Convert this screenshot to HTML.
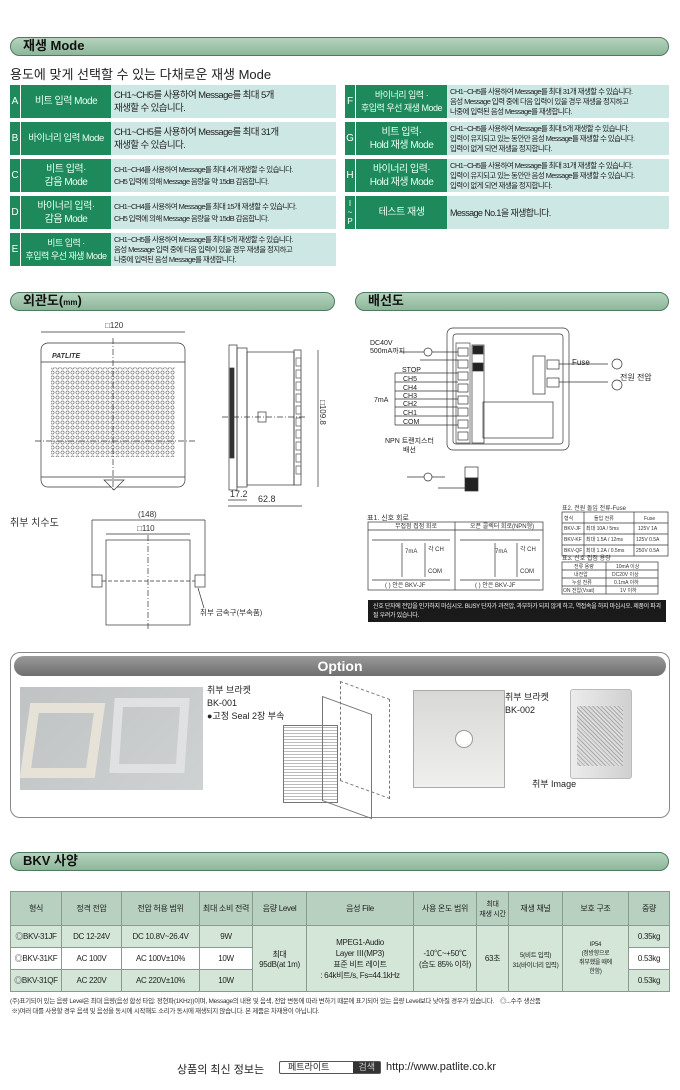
<!DOCTYPE html>
<html><head><meta charset="utf-8"><style>
*{margin:0;padding:0;box-sizing:border-box}
body{width:680px;height:1090px;background:#fff;position:relative;overflow:hidden;font-family:"Liberation Sans","Noto Sans CJK KR",sans-serif;color:#222}
.a{position:absolute}
.hd{position:absolute;height:19px;border:1.5px solid #4e7a5e;border-radius:10px;background:linear-gradient(#b5d3bd,#8db79a);font-weight:bold;font-size:13px;padding-left:12px;line-height:16px;color:#111}
.row{position:absolute;display:flex;height:33px;font-size:11px}
.row .l{width:10px;background:#1e8a5c;color:#fff;display:flex;align-items:center;justify-content:center;font-size:10px;margin-right:1px}
.row .m{background:#1e8a5c;color:#e8fff2;display:flex;align-items:center;justify-content:center;text-align:center;line-height:13px;font-size:10px;letter-spacing:-0.5px;white-space:nowrap}
.row .d{flex:1;background:#cde8e4;padding:1px 3px;display:flex;align-items:center;line-height:10px;font-size:7.5px;letter-spacing:-0.6px;white-space:nowrap;overflow:hidden}
table{border-collapse:collapse;font-size:8px;text-align:center;letter-spacing:-0.3px}
td{border:1px solid #8a9a90;padding:0}
</style></head><body>

<div class="hd" style="left:10px;top:37px;width:659px">재생 Mode</div>
<div class="a" style="left:10px;top:64px;font-size:13px">용도에 맞게 선택할 수 있는 다채로운 재생 Mode</div>

<div class="row" style="left:10px;top:85px;width:326px"><div class="l">A</div><div class="m" style="width:90px">비트 입력 Mode</div><div class="d" style="font-size:9.5px;line-height:13px">CH1~CH5를 사용하여 Message를 최대 5개<br>재생할 수 있습니다.</div></div>
<div class="row" style="left:10px;top:122px;width:326px"><div class="l">B</div><div class="m" style="width:90px;font-size:9.5px">바이너리 입력 Mode</div><div class="d" style="font-size:9.5px;line-height:13px">CH1~CH5를 사용하여 Message를 최대 31개<br>재생할 수 있습니다.</div></div>
<div class="row" style="left:10px;top:159px;width:326px"><div class="l">C</div><div class="m" style="width:90px">비트 입력·<br>감음 Mode</div><div class="d" style="line-height:12px">CH1~CH4를 사용하여 Message를 최대 4개 재생할 수 있습니다.<br>CH5 입력에 의해 Message 음량을 약 15dB 감음합니다.</div></div>
<div class="row" style="left:10px;top:196px;width:326px"><div class="l">D</div><div class="m" style="width:90px">바이너리 입력·<br>감음 Mode</div><div class="d" style="line-height:12px">CH1~CH4를 사용하여 Message를 최대 15개 재생할 수 있습니다.<br>CH5 입력에 의해 Message 음량을 약 15dB 감음합니다.</div></div>
<div class="row" style="left:10px;top:233px;width:326px"><div class="l">E</div><div class="m" style="width:90px;font-size:9px">비트 입력 ·<br>후입력 우선 재생 Mode</div><div class="d">CH1~CH5를 사용하여 Message를 최대 5개 재생할 수 있습니다.<br>음성 Message 입력 중에 다음 입력이 있을 경우 재생을 정지하고<br>나중에 입력된 음성 Message를 재생합니다.</div></div>

<div class="row" style="left:345px;top:85px;width:324px"><div class="l">F</div><div class="m" style="width:91px;font-size:9px">바이너리 입력 ·<br>후입력 우선 재생 Mode</div><div class="d">CH1~CH5를 사용하여 Message를 최대 31개 재생할 수 있습니다.<br>음성 Message 입력 중에 다음 입력이 있을 경우 재생을 정지하고<br>나중에 입력된 음성 Message를 재생합니다.</div></div>
<div class="row" style="left:345px;top:122px;width:324px"><div class="l">G</div><div class="m" style="width:91px">비트 입력·<br>Hold 재생 Mode</div><div class="d">CH1~CH5를 사용하여 Message를 최대 5개 재생할 수 있습니다.<br>입력이 유지되고 있는 동안만 음성 Message를 재생할 수 있습니다.<br>입력이 없게 되면 재생을 정지합니다.</div></div>
<div class="row" style="left:345px;top:159px;width:324px"><div class="l">H</div><div class="m" style="width:91px">바이너리 입력·<br>Hold 재생 Mode</div><div class="d">CH1~CH5를 사용하여 Message를 최대 31개 재생할 수 있습니다.<br>입력이 유지되고 있는 동안만 음성 Message를 재생할 수 있습니다.<br>입력이 없게 되면 재생을 정지합니다.</div></div>
<div class="row" style="left:345px;top:196px;width:324px"><div class="l" style="font-size:8px;line-height:9px;text-align:center">I<br>~<br>P</div><div class="m" style="width:91px">테스트 재생</div><div class="d" style="font-size:9px">Message No.1을 재생합니다.</div></div>

<div class="hd" style="left:10px;top:292px;width:325px">외관도(<span style="font-size:8px">mm</span>)</div>
<div class="hd" style="left:355px;top:292px;width:314px">배선도</div>

<svg class="a" style="left:0;top:312px" width="680" height="330" viewBox="0 312 680 330" font-family="Liberation Sans, Noto Sans CJK KR, sans-serif" fill="none" stroke="#333" stroke-width="0.7">
<defs><pattern id="dots" width="5" height="5" patternUnits="userSpaceOnUse"><circle cx="2.5" cy="2.5" r="1.6" fill="none" stroke="#666" stroke-width="0.6"/></pattern></defs>
<text x="105" y="328" font-size="8" fill="#333" stroke="none">□120</text>
<line x1="41" y1="332" x2="185" y2="332"/>
<rect x="41" y="343" width="144" height="144" rx="7"/>
<line x1="41" y1="362" x2="185" y2="362"/>
<text x="52" y="358" font-size="7" font-style="italic" font-weight="bold" fill="#333" stroke="none">PATLITE</text>
<rect x="51" y="367" width="124" height="90" fill="url(#dots)" stroke="none"/>
<line x1="41" y1="477" x2="185" y2="477"/>
<path d="M104 480 L124 480 L114 490 Z" fill="#fff"/>
<line x1="113" y1="338" x2="113" y2="492" stroke-dasharray="6 2 1 2"/>
<line x1="35" y1="441" x2="195" y2="441" stroke-dasharray="6 2 1 2"/>
<rect x="229" y="345" width="8" height="145"/>
<rect x="237" y="348" width="10" height="139"/>
<rect x="247" y="352" width="47" height="133"/>
<rect x="230" y="368" width="4" height="90" fill="#333"/>
<rect x="294" y="350" width="7" height="135"/>
<g stroke="#555">
<rect x="296" y="358" width="5" height="8"/><rect x="296" y="370" width="5" height="8"/><rect x="296" y="382" width="5" height="8"/><rect x="296" y="394" width="5" height="8"/><rect x="296" y="406" width="5" height="8"/><rect x="296" y="418" width="5" height="8"/><rect x="296" y="430" width="5" height="8"/><rect x="296" y="442" width="5" height="8"/><rect x="296" y="454" width="5" height="8"/><rect x="296" y="466" width="5" height="8"/></g>
<rect x="258" y="412" width="8" height="10"/>
<line x1="222" y1="417" x2="305" y2="417" stroke-dasharray="6 2 1 2"/>
<line x1="318" y1="350" x2="318" y2="487"/>
<text x="318" y="425" font-size="8" fill="#333" stroke="none" transform="rotate(90 318 425)" dx="-25" dy="-2">□109.8</text>
<line x1="228" y1="500" x2="247" y2="500"/><line x1="228" y1="506" x2="302" y2="506"/>
<text x="230" y="497" font-size="9" fill="#333" stroke="none">17.2</text>
<text x="258" y="502" font-size="9" fill="#333" stroke="none">62.8</text>
<text x="10" y="526" font-size="10" fill="#333" stroke="none">취부 치수도</text>
<text x="138" y="517" font-size="8" fill="#333" stroke="none">(148)</text>
<line x1="92" y1="520" x2="205" y2="520"/>
<text x="137" y="531" font-size="8" fill="#333" stroke="none">□110</text>
<line x1="106" y1="534" x2="190" y2="534"/>
<line x1="92" y1="520" x2="92" y2="575"/><line x1="205" y1="520" x2="205" y2="575"/>
<rect x="106" y="540" width="84" height="85"/>
<rect x="92" y="575" width="10" height="12"/><rect x="195" y="575" width="10" height="12"/>
<line x1="102" y1="581" x2="195" y2="581" stroke-dasharray="4 2"/>
<line x1="148" y1="535" x2="148" y2="630" stroke-dasharray="6 2 1 2"/>
<line x1="198" y1="588" x2="204" y2="608"/>
<text x="200" y="615" font-size="7.5" fill="#333" stroke="none">취부 금속구(부속품)</text>

<rect x="447" y="328" width="122" height="122" rx="6"/>
<rect x="453" y="334" width="110" height="110" rx="3"/>
<rect x="456" y="343" width="14" height="100" stroke="#444"/>
<g fill="#fff"><rect x="458" y="348" width="10" height="8"/><rect x="458" y="360" width="10" height="8"/><rect x="458" y="372" width="10" height="8"/><rect x="458" y="384" width="10" height="8"/><rect x="458" y="396" width="10" height="8"/><rect x="458" y="408" width="10" height="8"/><rect x="458" y="420" width="10" height="8"/><rect x="458" y="432" width="10" height="8"/></g>
<rect x="472" y="345" width="12" height="98"/>
<rect x="473" y="346" width="10" height="8" fill="#222"/>
<rect x="473" y="363" width="10" height="8" fill="#222"/>
<rect x="483" y="402" width="70" height="36"/>
<rect x="533" y="356" width="12" height="38"/>
<rect x="547" y="360" width="12" height="9" fill="#fff"/><rect x="547" y="378" width="12" height="9" fill="#fff"/>
<g font-size="7" fill="#222" stroke="none">
<text x="370" y="345">DC40V</text><text x="370" y="353">500mA까지</text>
<text x="402" y="372">STOP</text><text x="403" y="381">CH5</text><text x="403" y="390">CH4</text><text x="403" y="398">CH3</text><text x="403" y="406">CH2</text><text x="403" y="415">CH1</text><text x="403" y="424">COM</text>
<text x="374" y="402">7mA</text>
<text x="385" y="443">NPN 트랜지스터</text><text x="403" y="452">배선</text>
<text x="572" y="365" font-size="8">Fuse</text>
<text x="620" y="380" font-size="8">전원 전압</text>
</g>
<g stroke="#333">
<line x1="400" y1="352" x2="458" y2="352"/><line x1="420" y1="360" x2="458" y2="360"/>
<line x1="395" y1="373" x2="458" y2="373"/><line x1="395" y1="382" x2="458" y2="382"/><line x1="395" y1="391" x2="458" y2="391"/><line x1="395" y1="399" x2="458" y2="399"/><line x1="395" y1="407" x2="458" y2="407"/><line x1="395" y1="416" x2="458" y2="416"/><line x1="395" y1="425" x2="458" y2="425"/>
<line x1="395" y1="373" x2="395" y2="425"/>
<circle cx="428" cy="352" r="4" fill="#fff"/>
<line x1="559" y1="364" x2="608" y2="364"/><line x1="559" y1="382" x2="608" y2="382"/>
<circle cx="617" cy="364" r="5"/><circle cx="617" cy="385" r="5"/>
<line x1="407" y1="477" x2="445" y2="477"/><circle cx="428" cy="477" r="4" fill="#fff"/>
<line x1="438" y1="488" x2="465" y2="488"/>
</g>
<rect x="465" y="467" width="13" height="11" fill="#fff"/><rect x="465" y="478" width="13" height="13" fill="#222"/>
<text x="367" y="520" font-size="7" fill="#333" stroke="none">표1. 신호 회로</text>
<rect x="368" y="522" width="175" height="68"/><line x1="455" y1="522" x2="455" y2="590"/><line x1="368" y1="530" x2="543" y2="530"/>
<line x1="372" y1="540" x2="450" y2="540"/><line x1="372" y1="580" x2="450" y2="580"/>
<line x1="460" y1="540" x2="540" y2="540"/><line x1="460" y1="580" x2="540" y2="580"/>
<line x1="402" y1="543" x2="402" y2="577"/><line x1="425" y1="543" x2="425" y2="577"/>
<line x1="495" y1="543" x2="495" y2="577"/><line x1="517" y1="543" x2="517" y2="577"/>
<g font-size="6" fill="#333" stroke="none">
<text x="395" y="528">무접점 접점 회로</text><text x="470" y="528">오픈 콜렉터 회로(NPN형)</text>
<text x="405" y="553">7mA</text><text x="428" y="551">각 CH</text><text x="428" y="573">COM</text>
<text x="495" y="553">7mA</text><text x="520" y="551">각 CH</text><text x="520" y="573">COM</text>
<text x="385" y="587">( ) 안은 BKV-JF</text><text x="475" y="587">( ) 안은 BKV-JF</text>
<text x="562" y="510">표2. 전원 돌입 전류-Fuse</text><text x="562" y="560">표3. 신호 접점 용량</text>
</g>
<rect x="562" y="512" width="106" height="44"/><line x1="562" y1="523" x2="668" y2="523"/><line x1="562" y1="534" x2="668" y2="534"/><line x1="562" y1="545" x2="668" y2="545"/><line x1="584" y1="512" x2="584" y2="556"/><line x1="634" y1="512" x2="634" y2="556"/>
<rect x="562" y="562" width="96" height="32"/><line x1="562" y1="570" x2="658" y2="570"/><line x1="562" y1="578" x2="658" y2="578"/><line x1="562" y1="586" x2="658" y2="586"/><line x1="606" y1="562" x2="606" y2="594"/>
<g font-size="5" fill="#333" stroke="none">
<text x="564" y="520">형식</text><text x="594" y="520">돌입 전류</text><text x="644" y="520">Fuse</text>
<text x="564" y="530">BKV-JF</text><text x="586" y="530">최대 10A / 5ms</text><text x="638" y="530">125V 1A</text>
<text x="564" y="541">BKV-KF</text><text x="586" y="541">최대 1.5A / 12ms</text><text x="636" y="541">125V 0.5A</text>
<text x="564" y="552">BKV-QF</text><text x="586" y="552">최대 1.2A / 0.5ms</text><text x="636" y="552">250V 0.5A</text>
<text x="574" y="568">전류 용량</text><text x="616" y="568">10mA 이상</text>
<text x="574" y="576">내전압</text><text x="612" y="576">DC20V 이상</text>
<text x="572" y="584">누설 전류</text><text x="614" y="584">0.1mA 이하</text>
<text x="563" y="592">ON 전압(Vsat)</text><text x="620" y="592">1V 이하</text>
</g>
</svg>
<div class="a" style="left:368px;top:600px;width:298px;height:22px;background:#1a1a1a;color:#eee;font-size:6px;line-height:9px;padding:3px 5px;letter-spacing:-0.3px">신호 단자에 전압을 인가하지 마십시오. BUSY 단자가 과전압, 과부하가 되지 않게 하고, 역접속을 하지 마십시오. 제품이 파괴될 우려가 있습니다.</div>

<div class="a" style="left:10px;top:652px;width:660px;height:166px;border:1.5px solid #888;border-radius:10px"></div>
<div class="a" style="left:14px;top:656px;width:652px;height:20px;border-radius:10px;background:linear-gradient(#9a9a9a,#6e6e6e);color:#fff;font-weight:bold;font-size:14px;text-align:center;line-height:20px">Option</div>
<div class="a" style="left:20px;top:687px;width:183px;height:103px;background:linear-gradient(135deg,#bfc3c4,#cfd2d2)"></div>
<div class="a" style="left:25px;top:703px;width:75px;height:75px;border:10px solid #e6e2d8;transform:skewX(-8deg)"></div>
<div class="a" style="left:112px;top:698px;width:75px;height:75px;border:9px solid #dfe1e3;transform:skewX(-4deg)"></div>
<div class="a" style="left:207px;top:684px;font-size:9px;line-height:13px">취부 브라켓<br>BK-001<br>●고정 Seal 2장 부속</div>
<div class="a" style="left:283px;top:725px;width:55px;height:78px;border:1px solid #777;background:repeating-linear-gradient(0deg,#fff 0 2px,#bbb 2px 3px)"></div>
<div class="a" style="left:322px;top:705px;width:50px;height:105px;border:1px solid #777;transform:skewY(20deg)"></div>
<div class="a" style="left:340px;top:690px;width:50px;height:100px;border:1px dashed #777;transform:skewY(20deg)"></div>
<div class="a" style="left:413px;top:690px;width:92px;height:98px;background:linear-gradient(#d8d8d6,#efefed);border:1px solid #aaa"></div>
<div class="a" style="left:455px;top:730px;width:18px;height:18px;border-radius:50%;background:#fff;border:1px solid #999"></div>
<div class="a" style="left:505px;top:691px;font-size:9px;line-height:13px">취부 브라켓<br>BK-002</div>
<div class="a" style="left:570px;top:689px;width:62px;height:90px;background:linear-gradient(90deg,#ececec,#d0d0d0);border:1px solid #bbb;border-radius:3px"></div>
<div class="a" style="left:577px;top:706px;width:46px;height:60px;background:repeating-linear-gradient(45deg,#ddd 0 2px,#aaa 2px 3px)"></div>
<div class="a" style="left:532px;top:777px;font-size:9px">취부 Image</div>

<div class="hd" style="left:10px;top:852px;width:659px">BKV 사양</div>
<table class="a" style="left:10px;top:891px;width:660px">
<tr style="height:34px;background:#b7d0c0"><td style="width:51px">형식</td><td style="width:60px">정격 전압</td><td style="width:78px">전압 허용 범위</td><td style="width:53px">최대 소비 전력</td><td style="width:54px">음량 Level</td><td style="width:107px">음성 File</td><td style="width:63px">사용 온도 범위</td><td style="width:32px;font-size:7px">최대<br>재생 시간</td><td style="width:54px">재생 채널</td><td style="width:66px">보호 구조</td><td>중량</td></tr>
<tr style="height:22px"><td style="background:#d3e6d8">◎BKV-31JF</td><td style="background:#d3e6d8">DC 12-24V</td><td style="background:#d3e6d8">DC 10.8V~26.4V</td><td style="background:#d3e6d8">9W</td><td rowspan="3" style="background:#d3e6d8">최대<br>95dB(at 1m)</td><td rowspan="3" style="background:#d3e6d8;line-height:11px">MPEG1-Audio<br>Layer Ⅲ(MP3)<br>표준 비트 레이트<br>: 64k비트/s, Fs=44.1kHz</td><td rowspan="3" style="background:#d3e6d8">-10℃~+50℃<br>(습도 85% 이하)</td><td rowspan="3" style="background:#d3e6d8">63초</td><td rowspan="3" style="background:#d3e6d8;font-size:6.5px;white-space:nowrap">5(비트 입력)<br>31(바이너리 입력)</td><td rowspan="3" style="background:#d3e6d8;font-size:6px">IP54<br>(정방향으로<br>취부했을 때에<br>한함)</td><td style="background:#d3e6d8">0.35kg</td></tr>
<tr style="height:22px"><td>◎BKV-31KF</td><td>AC 100V</td><td>AC 100V±10%</td><td>10W</td><td>0.53kg</td></tr>
<tr style="height:22px;background:#d3e6d8"><td>◎BKV-31QF</td><td>AC 220V</td><td>AC 220V±10%</td><td>10W</td><td>0.53kg</td></tr>
</table>
<div class="a" style="left:10px;top:997px;width:665px;font-size:6.5px;line-height:10px;color:#333;white-space:nowrap;letter-spacing:-0.3px">(주)표기되어 있는 음량 Level은 최대 음량(음성 합성 타입: 정현파(1KHz))이며, Message의 내용 및 음색, 전압 변동에 따라 변하기 때문에 표기되어 있는 음량 Level보다 낮아질 경우가 있습니다. &nbsp;&nbsp;&nbsp;◎...수주 생산품<br>&nbsp;※)여러 대를 사용할 경우 음색 및 음성을 동시에 시작해도 소리가 동시에 재생되지 않습니다. 본 제품은 차재용이 아닙니다.</div>

<div class="a" style="left:177px;top:1061px;font-size:11px">상품의 최신 정보는</div>
<div class="a" style="left:279px;top:1061px;width:102px;height:13px;border:1px solid #555;border-radius:2px;font-size:9px;line-height:11px"><span style="padding:0 8px">페트라이트</span><span style="background:#333;color:#ccc;padding:0 5px;position:absolute;right:0;top:0;height:11px">검색</span></div>
<div class="a" style="left:386px;top:1061px;font-size:11px">http://www.patlite.co.kr</div>
</body></html>
